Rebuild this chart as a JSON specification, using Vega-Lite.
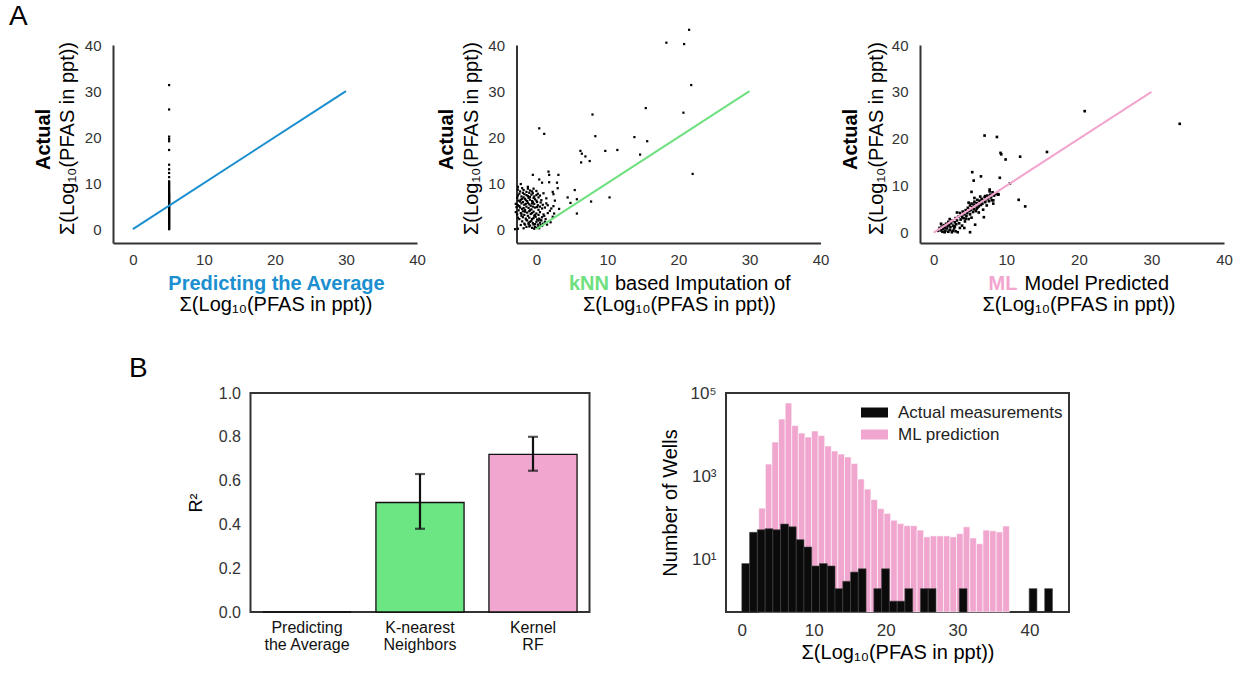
{
  "$schema": "https://vega.github.io/schema/vega-lite/v6.json",
  "background": "white",
  "padding": {"left": 9, "top": 2, "right": 5, "bottom": 5},
  "bounds": "flush",
  "spacing": 348,
  "resolve": {"scale": {"fill": "independent"}},
  "datasets": {
    "a1": [
      {"p":5.1,"a":0},{"p":5.1,"a":0.2},{"p":5.1,"a":0.4},{"p":5.1,"a":0.6},{"p":5.1,"a":0.8},{"p":5.1,"a":1.0},{"p":5.1,"a":1.2},{"p":5.1,"a":1.4},{"p":5.1,"a":1.6},{"p":5.1,"a":1.8},
      {"p":5.1,"a":2.0},{"p":5.1,"a":2.2},{"p":5.1,"a":2.4},{"p":5.1,"a":2.6},{"p":5.1,"a":2.8},{"p":5.1,"a":3.0},{"p":5.1,"a":3.2},{"p":5.1,"a":3.4},{"p":5.1,"a":3.6},{"p":5.1,"a":3.8},
      {"p":5.1,"a":4.0},{"p":5.1,"a":4.2},{"p":5.1,"a":4.4},{"p":5.1,"a":4.6},{"p":5.1,"a":4.8},{"p":5.1,"a":5.0},{"p":5.1,"a":5.2},{"p":5.1,"a":5.4},{"p":5.1,"a":5.6},{"p":5.1,"a":5.8},
      {"p":5.1,"a":6.0},{"p":5.1,"a":6.2},{"p":5.1,"a":6.4},{"p":5.1,"a":6.6},{"p":5.1,"a":6.8},{"p":5.1,"a":7.0},{"p":5.1,"a":7.2},{"p":5.1,"a":7.4},{"p":5.1,"a":7.6},{"p":5.1,"a":7.8},
      {"p":5.1,"a":8.0},{"p":5.1,"a":8.3},{"p":5.1,"a":8.6},{"p":5.1,"a":8.9},{"p":5.1,"a":9.2},{"p":5.1,"a":9.5},{"p":5.1,"a":9.8},{"p":5.1,"a":10.1},{"p":5.1,"a":10.4},
      {"p":5.1,"a":11.3},{"p":5.1,"a":12.2},{"p":5.1,"a":13.0},{"p":5.1,"a":14.0},{"p":5.1,"a":17.2},{"p":5.1,"a":19.1},{"p":5.1,"a":19.6},{"p":5.1,"a":20.1},{"p":5.1,"a":26.0},{"p":5.1,"a":31.3}
    ],
    "a2": [
      {"p":-2.6,"a":0.1},{"p":-1.8,"a":0.2},{"p":-0.6,"a":0.3},{"p":-0.2,"a":0.5},{"p":0.1,"a":0.3},{"p":0.3,"a":0.6},{"p":-0.9,"a":0.8},{"p":-1.4,"a":0.5},{"p":0.6,"a":0.9},{"p":-0.4,"a":1.0},{"p":0.2,"a":1.0},{"p":-2.2,"a":0.9},
      {"p":-1.7,"a":1.2},{"p":-1.1,"a":1.4},{"p":-0.5,"a":1.3},{"p":0.0,"a":1.6},{"p":0.5,"a":1.4},{"p":0.9,"a":1.2},{"p":-2.0,"a":1.7},{"p":-1.3,"a":1.9},{"p":-0.7,"a":1.8},{"p":0.3,"a":1.9},{"p":1.2,"a":1.6},{"p":-0.2,"a":1.1},{"p":0.7,"a":1.9},
      {"p":-2.4,"a":2.2},{"p":-1.9,"a":2.6},{"p":-1.5,"a":2.3},{"p":-1.0,"a":2.5},{"p":-0.6,"a":2.2},{"p":-0.1,"a":2.7},{"p":0.4,"a":2.3},{"p":0.8,"a":2.6},{"p":-1.2,"a":2.9},{"p":-2.1,"a":2.9},{"p":1.3,"a":2.2},{"p":0.1,"a":2.1},{"p":-0.3,"a":2.9},
      {"p":-2.7,"a":3.2},{"p":-2.2,"a":3.5},{"p":-1.7,"a":3.1},{"p":-1.3,"a":3.6},{"p":-0.8,"a":3.3},{"p":-0.4,"a":3.8},{"p":0.0,"a":3.4},{"p":0.5,"a":3.7},{"p":1.0,"a":3.2},{"p":-1.9,"a":3.9},{"p":-1.0,"a":3.9},{"p":-2.9,"a":3.7},{"p":0.3,"a":3.1},{"p":1.6,"a":3.5},
      {"p":-2.5,"a":4.1},{"p":-2.0,"a":4.4},{"p":-1.6,"a":4.2},{"p":-1.1,"a":4.6},{"p":-0.7,"a":4.3},{"p":-0.2,"a":4.7},{"p":0.3,"a":4.2},{"p":0.8,"a":4.5},{"p":-2.8,"a":4.8},{"p":-1.4,"a":4.9},{"p":-0.5,"a":4.9},{"p":1.2,"a":4.7},{"p":-2.3,"a":4.7},{"p":0.1,"a":4.8},{"p":2.1,"a":4.5},
      {"p":-2.6,"a":5.2},{"p":-2.1,"a":5.6},{"p":-1.7,"a":5.3},{"p":-1.2,"a":5.7},{"p":-0.8,"a":5.1},{"p":-0.3,"a":5.5},{"p":0.2,"a":5.2},{"p":0.6,"a":5.8},{"p":-1.9,"a":5.9},{"p":-1.0,"a":5.4},{"p":-2.9,"a":5.5},{"p":0.9,"a":5.3},{"p":-0.5,"a":5.9},{"p":1.4,"a":5.6},
      {"p":-2.5,"a":6.2},{"p":-2.0,"a":6.6},{"p":-1.5,"a":6.3},{"p":-1.1,"a":6.8},{"p":-0.6,"a":6.1},{"p":-0.2,"a":6.5},{"p":0.3,"a":6.9},{"p":-2.7,"a":6.8},{"p":-1.8,"a":6.9},{"p":-0.9,"a":6.4},{"p":0.7,"a":6.3},{"p":-1.3,"a":6.1},{"p":0.0,"a":6.2},{"p":-2.3,"a":6.0},
      {"p":-2.6,"a":7.3},{"p":-2.1,"a":7.1},{"p":-1.7,"a":7.6},{"p":-1.2,"a":7.2},{"p":-0.7,"a":7.5},{"p":-0.3,"a":7.1},{"p":0.2,"a":7.7},{"p":-1.9,"a":7.9},{"p":-1.0,"a":7.9},{"p":-2.4,"a":7.7},{"p":-0.5,"a":7.8},{"p":0.5,"a":7.3},
      {"p":-2.3,"a":8.2},{"p":-1.8,"a":8.5},{"p":-1.4,"a":8.1},{"p":-0.9,"a":8.4},{"p":-0.4,"a":8.8},{"p":0.0,"a":8.3},{"p":-2.0,"a":8.9},{"p":-1.2,"a":8.8},{"p":-2.6,"a":8.6},{"p":-0.6,"a":8.2},
      {"p":-1.6,"a":1.0},{"p":-1.0,"a":0.6},{"p":0.4,"a":0.2},{"p":-0.3,"a":0.1},{"p":-1.4,"a":2.0},{"p":-0.9,"a":1.6},{"p":-0.4,"a":2.4},{"p":0.6,"a":2.0},{"p":-1.6,"a":3.8},{"p":-0.6,"a":3.5},{"p":-0.2,"a":3.1},{"p":-1.8,"a":4.6},{"p":-0.9,"a":4.1},{"p":0.5,"a":4.9},
      {"p":-1.5,"a":5.5},{"p":-0.6,"a":5.6},{"p":0.1,"a":5.9},{"p":-1.6,"a":6.6},{"p":-0.4,"a":6.8},{"p":-1.4,"a":7.4},{"p":-0.9,"a":7.0},{"p":0.0,"a":7.4},{"p":-2.2,"a":6.4},{"p":-2.4,"a":5.0},{"p":-2.1,"a":3.3},{"p":-2.6,"a":2.5},{"p":-1.1,"a":1.1},{"p":0.8,"a":0.7},
      {"p":-0.5,"a":11.8},{"p":1.7,"a":12.5},{"p":1.8,"a":11.8},{"p":3.1,"a":11.8},{"p":0.4,"a":10.8},{"p":0.8,"a":10.1},{"p":1.8,"a":10.2},{"p":2.9,"a":10.1},{"p":-2.6,"a":9.2},{"p":-2.2,"a":9.8},{"p":-1.2,"a":9.2},{"p":2.3,"a":8.1},{"p":3.0,"a":8.9},{"p":2.4,"a":7.6},
      {"p":1.0,"a":7.8},{"p":1.4,"a":6.7},{"p":1.6,"a":5.2},{"p":2.4,"a":5.0},{"p":2.5,"a":3.4},{"p":2.3,"a":2.7},{"p":4.4,"a":6.9},{"p":5.4,"a":8.5},{"p":5.7,"a":6.5},{"p":7.7,"a":6.0},{"p":5.7,"a":3.4},{"p":10.3,"a":6.9},{"p":4.8,"a":5.7},{"p":1.9,"a":4.0},
      {"p":1.5,"a":1.0},{"p":2.0,"a":1.5},{"p":1.1,"a":2.9},{"p":3.2,"a":4.4},{"p":2.6,"a":6.2},{"p":-3.0,"a":0.0},
      {"p":21.5,"a":43.3},{"p":18.3,"a":40.5},{"p":20.8,"a":40.2},{"p":21.8,"a":31.3},{"p":15.4,"a":26.3},{"p":20.7,"a":25.3},{"p":7.9,"a":24.9},{"p":0.4,"a":21.9},{"p":1.1,"a":20.7},{"p":8.3,"a":20.2},{"p":13.8,"a":20.0},
      {"p":15.6,"a":19.1},{"p":6.2,"a":17.0},{"p":9.7,"a":17.0},{"p":11.4,"a":17.2},{"p":6.4,"a":16.4},{"p":6.9,"a":15.8},{"p":14.6,"a":16.2},{"p":7.5,"a":14.8},{"p":6.3,"a":14.5},{"p":22.0,"a":12.0}
    ],
    "a3": [
      {"p":0.6,"a":0.4},{"p":0.8,"a":1.0},{"p":1.0,"a":0.5},{"p":1.1,"a":1.3},{"p":1.2,"a":0.2},{"p":1.3,"a":0.8},{"p":1.4,"a":1.6},{"p":1.5,"a":1.1},{"p":1.6,"a":0.4},{"p":1.7,"a":1.9},
      {"p":1.8,"a":0.9},{"p":1.9,"a":1.4},{"p":2.0,"a":0.2},{"p":2.0,"a":2.3},{"p":2.1,"a":1.7},{"p":2.2,"a":0.6},{"p":2.3,"a":1.2},{"p":2.4,"a":2.0},{"p":2.5,"a":0.1},{"p":2.6,"a":2.6},
      {"p":2.7,"a":1.5},{"p":2.8,"a":0.9},{"p":2.9,"a":2.2},{"p":3.0,"a":0.3},{"p":3.0,"a":3.1},{"p":3.1,"a":1.8},{"p":3.2,"a":2.6},{"p":3.3,"a":0.1},{"p":3.4,"a":3.4},{"p":3.5,"a":2.0},
      {"p":3.6,"a":4.2},{"p":3.7,"a":2.8},{"p":3.8,"a":3.7},{"p":3.9,"a":1.5},{"p":4.0,"a":4.5},{"p":4.1,"a":3.1},{"p":4.2,"a":3.9},{"p":4.3,"a":2.4},{"p":4.4,"a":4.8},{"p":4.5,"a":3.6},
      {"p":4.6,"a":4.2},{"p":4.7,"a":5.3},{"p":4.8,"a":2.9},{"p":4.9,"a":4.6},{"p":5.0,"a":5.8},{"p":5.0,"a":3.9},{"p":5.1,"a":4.9},{"p":5.2,"a":6.2},{"p":5.2,"a":3.2},{"p":5.3,"a":5.4},
      {"p":5.4,"a":4.4},{"p":5.5,"a":6.0},{"p":5.5,"a":5.0},{"p":5.6,"a":6.6},{"p":5.7,"a":5.7},{"p":5.8,"a":4.6},{"p":5.9,"a":6.3},{"p":6.0,"a":5.3},{"p":6.0,"a":7.0},{"p":6.1,"a":6.1},
      {"p":6.2,"a":5.6},{"p":6.3,"a":6.8},{"p":6.4,"a":6.4},{"p":6.5,"a":5.9},{"p":6.6,"a":7.2},{"p":6.7,"a":6.2},{"p":6.8,"a":4.9},{"p":6.9,"a":6.9},{"p":7.0,"a":7.6},{"p":7.1,"a":6.5},
      {"p":7.2,"a":7.1},{"p":7.3,"a":5.8},{"p":7.4,"a":7.9},{"p":7.5,"a":7.3},{"p":7.6,"a":6.7},{"p":7.8,"a":8.1},{"p":7.9,"a":7.5},{"p":8.0,"a":6.9},{"p":8.1,"a":8.6},{"p":8.3,"a":7.9},
      {"p":8.5,"a":8.2},{"p":8.7,"a":8.3},{"p":8.9,"a":8.2},{"p":3.6,"a":1.0},{"p":2.2,"a":2.9},{"p":1.0,"a":1.9},{"p":4.2,"a":1.0},{"p":3.2,"a":4.3},{"p":4.8,"a":6.4},{"p":5.6,"a":7.4},
      {"p":6.4,"a":7.7},{"p":6.2,"a":4.3},{"p":1.5,"a":0.1},{"p":2.6,"a":0.4},{"p":3.9,"a":3.3},{"p":4.4,"a":3.0},{"p":5.9,"a":5.1},{"p":6.6,"a":6.6},{"p":7.1,"a":7.8},{"p":2.9,"a":1.3},
      {"p":20.8,"a":25.9},{"p":33.9,"a":23.2},{"p":7.0,"a":20.7},{"p":8.7,"a":20.4},{"p":15.6,"a":17.2},{"p":9.2,"a":17.0},{"p":9.3,"a":16.7},{"p":11.9,"a":16.2},{"p":9.9,"a":15.6},{"p":5.3,"a":12.9},
      {"p":6.5,"a":12.0},{"p":9.1,"a":11.7},{"p":5.5,"a":11.1},{"p":10.5,"a":10.5},{"p":5.2,"a":8.7},{"p":11.7,"a":7.0},{"p":12.6,"a":5.6},{"p":6.9,"a":3.3},{"p":5.0,"a":0.1},{"p":8.2,"a":6.2},
      {"p":8.2,"a":6.9},{"p":7.7,"a":8.8},{"p":8.9,"a":8.1},{"p":5.7,"a":1.7},{"p":7.7,"a":9.2}
    ],
    "diag": [{"p":0,"a":0},{"p":30,"a":30}],
    "r2": [
      {"model":"Predicting the Average","r2":0,"lo":null,"hi":null},
      {"model":"K-nearest Neighbors","r2":0.50,"lo":0.38,"hi":0.63},
      {"model":"Kernel RF","r2":0.72,"lo":0.645,"hi":0.80}
    ],
    "pred": [
      {"x0":2.36,"x1":3.28,"n":172},{"x0":3.28,"x1":4.19,"n":1960},{"x0":4.19,"x1":5.11,"n":6640},{"x0":5.11,"x1":6.03,"n":23700},{"x0":6.03,"x1":6.94,"n":57500},
      {"x0":6.94,"x1":7.86,"n":16500},{"x0":7.86,"x1":8.78,"n":10900},{"x0":8.78,"x1":9.70,"n":8750},{"x0":9.70,"x1":10.61,"n":12200},{"x0":10.61,"x1":11.53,"n":9500},
      {"x0":11.53,"x1":12.45,"n":5320},{"x0":12.45,"x1":13.36,"n":4030},{"x0":13.36,"x1":14.28,"n":3420},{"x0":14.28,"x1":15.20,"n":2900},{"x0":15.20,"x1":16.12,"n":2020},
      {"x0":16.12,"x1":17.03,"n":857},{"x0":17.03,"x1":17.95,"n":492},{"x0":17.95,"x1":18.87,"n":275},{"x0":18.87,"x1":19.78,"n":167},{"x0":19.78,"x1":20.70,"n":128},
      {"x0":20.70,"x1":21.62,"n":88},{"x0":21.62,"x1":22.53,"n":73},{"x0":22.53,"x1":23.45,"n":65},{"x0":23.45,"x1":24.37,"n":65},{"x0":24.37,"x1":25.29,"n":51},
      {"x0":25.29,"x1":26.20,"n":35},{"x0":26.20,"x1":27.12,"n":37},{"x0":27.12,"x1":28.04,"n":37},{"x0":28.04,"x1":28.95,"n":37},{"x0":28.95,"x1":29.87,"n":35},
      {"x0":29.87,"x1":30.79,"n":42},{"x0":30.79,"x1":31.71,"n":61},{"x0":31.71,"x1":32.62,"n":33},{"x0":32.62,"x1":33.54,"n":24},{"x0":33.54,"x1":34.46,"n":51},
      {"x0":34.46,"x1":35.37,"n":49},{"x0":35.37,"x1":36.29,"n":46},{"x0":36.29,"x1":37.21,"n":64}
    ],
    "actual": [
      {"x0":0.00,"x1":1.08,"n":8},{"x0":1.08,"x1":2.16,"n":45},{"x0":2.16,"x1":3.24,"n":52},{"x0":3.24,"x1":4.32,"n":55},{"x0":4.32,"x1":5.40,"n":52},
      {"x0":5.40,"x1":6.48,"n":71},{"x0":6.48,"x1":7.56,"n":61},{"x0":7.56,"x1":8.64,"n":30},{"x0":8.64,"x1":9.72,"n":20},{"x0":9.72,"x1":10.80,"n":7},
      {"x0":10.80,"x1":11.88,"n":8},{"x0":11.88,"x1":12.96,"n":7},{"x0":12.96,"x1":14.04,"n":2},{"x0":14.04,"x1":15.12,"n":3},{"x0":15.12,"x1":16.20,"n":5},
      {"x0":16.20,"x1":17.28,"n":6},{"x0":18.36,"x1":19.44,"n":2},{"x0":19.44,"x1":20.52,"n":6},{"x0":20.52,"x1":21.60,"n":1},{"x0":21.60,"x1":22.68,"n":1},
      {"x0":22.68,"x1":23.76,"n":2},{"x0":24.84,"x1":25.92,"n":2},{"x0":25.92,"x1":27.00,"n":2},{"x0":30.24,"x1":31.32,"n":2},{"x0":39.96,"x1":41.04,"n":2},
      {"x0":42.12,"x1":43.20,"n":2}
    ]
  },
  "vconcat": [
    {
      "bounds": "flush",
      "spacing": 99.5,
      "title": {"text": "A", "anchor": "start", "frame": "bounds", "orient": "top", "dx": -24, "offset": -2, "fontSize": 28, "fontWeight": "normal", "color": "#000"},
      "hconcat": [
        {
          "width": 304, "height": 198,
          "title": {"text": "Σ(Log₁₀(PFAS in ppt))", "orient": "bottom", "frame": "group", "anchor": "middle", "dx": 11, "offset": 2, "fontSize": 20, "fontWeight": "normal", "color": "#000"},
          "layer": [
            {
              "data": {"name": "a1"},
              "mark": {"type": "square", "filled": true, "color": "#000", "size": 5, "opacity": 1},
              "encoding": {
                "x": {"field": "p", "type": "quantitative", "scale": {"domain": [-2.8, 40], "nice": false, "zero": false},
                  "axis": {"values": [0,10,20,30,40], "ticks": false, "domainColor": "#333", "domainWidth": 2, "labelFontSize": 15, "labelColor": "#333", "labelPadding": 9, "labelFlush": false,
                    "title": "Predicting the Average", "titleFontSize": 20, "titleFontWeight": "bold", "titleColor": "#1b8fcf", "titleAlign": "center", "titleBaseline": "middle", "titleX": 163, "titleY": 40}},
                "y": {"field": "a", "type": "quantitative", "scale": {"domain": [-3, 40], "nice": false, "zero": false},
                  "axis": {"values": [0,10,20,30,40], "ticks": false, "domainColor": "#333", "domainWidth": 2, "labelFontSize": 15, "labelColor": "#333", "labelPadding": 12,
                    "title": "Σ(Log₁₀(PFAS in ppt))", "titleFontSize": 20, "titleFontWeight": "normal", "titleColor": "#000", "titleAlign": "center", "titleBaseline": "middle", "titleAngle": -90, "titleX": -46, "titleY": 93}}
              }
            },
            {
              "data": {"name": "diag"},
              "mark": {"type": "line", "color": "#1b8fcf", "strokeWidth": 2},
              "encoding": {
                "x": {"field": "p", "type": "quantitative", "axis": null},
                "y": {"field": "a", "type": "quantitative",
                  "axis": {"orient": "left", "labels": false, "ticks": false, "domain": false, "title": "Actual", "titleFontSize": 20, "titleFontWeight": "bold", "titleColor": "#000", "titleAlign": "center", "titleBaseline": "middle", "titleAngle": -90, "titleX": -70, "titleY": 94}}
              }
            }
          ],
          "resolve": {"axis": {"x": "independent", "y": "independent"}}
        },
        {
          "width": 304, "height": 198,
          "title": {"text": "Σ(Log₁₀(PFAS in ppt))", "orient": "bottom", "frame": "group", "anchor": "middle", "dx": 11, "offset": 2, "fontSize": 20, "fontWeight": "normal", "color": "#000"},
          "layer": [
            {
              "data": {"name": "a2"},
              "mark": {"type": "square", "filled": true, "color": "#000", "size": 5, "opacity": 1},
              "encoding": {
                "x": {"field": "p", "type": "quantitative", "scale": {"domain": [-2.8, 40], "nice": false, "zero": false},
                  "axis": {"values": [0,10,20,30,40], "ticks": false, "domainColor": "#333", "domainWidth": 2, "labelFontSize": 15, "labelColor": "#333", "labelPadding": 9, "labelFlush": false,
                    "title": "based Imputation of", "titleFontSize": 20, "titleFontWeight": "normal", "titleColor": "#000", "titleAlign": "left", "titleBaseline": "middle", "titleX": 98, "titleY": 40}},
                "y": {"field": "a", "type": "quantitative", "scale": {"domain": [-3, 40], "nice": false, "zero": false},
                  "axis": {"values": [0,10,20,30,40], "ticks": false, "domainColor": "#333", "domainWidth": 2, "labelFontSize": 15, "labelColor": "#333", "labelPadding": 12,
                    "title": "Σ(Log₁₀(PFAS in ppt))", "titleFontSize": 20, "titleFontWeight": "normal", "titleColor": "#000", "titleAlign": "center", "titleBaseline": "middle", "titleAngle": -90, "titleX": -45, "titleY": 93}}
              }
            },
            {
              "data": {"name": "diag"},
              "mark": {"type": "line", "color": "#6ee07f", "strokeWidth": 2},
              "encoding": {
                "x": {"field": "p", "type": "quantitative",
                  "axis": {"orient": "bottom", "labels": false, "ticks": false, "domain": false, "title": "kNN", "titleFontSize": 20, "titleFontWeight": "bold", "titleColor": "#6ee07f", "titleAlign": "right", "titleBaseline": "middle", "titleX": 92, "titleY": 40}},
                "y": {"field": "a", "type": "quantitative",
                  "axis": {"orient": "left", "labels": false, "ticks": false, "domain": false, "title": "Actual", "titleFontSize": 20, "titleFontWeight": "bold", "titleColor": "#000", "titleAlign": "center", "titleBaseline": "middle", "titleAngle": -90, "titleX": -70, "titleY": 94}}
              }
            }
          ],
          "resolve": {"axis": {"x": "independent", "y": "independent"}}
        },
        {
          "width": 304, "height": 198,
          "title": {"text": "Σ(Log₁₀(PFAS in ppt))", "orient": "bottom", "frame": "group", "anchor": "middle", "dx": 7, "offset": 2, "fontSize": 20, "fontWeight": "normal", "color": "#000"},
          "layer": [
            {
              "data": {"name": "a3"},
              "mark": {"type": "square", "filled": true, "color": "#000", "size": 7, "opacity": 1},
              "encoding": {
                "x": {"field": "p", "type": "quantitative", "scale": {"domain": [-1.9, 40], "nice": false, "zero": false},
                  "axis": {"values": [0,10,20,30,40], "ticks": false, "domainColor": "#333", "domainWidth": 2, "labelFontSize": 15, "labelColor": "#333", "labelPadding": 9, "labelFlush": false,
                    "title": "Model Predicted", "titleFontSize": 20, "titleFontWeight": "normal", "titleColor": "#000", "titleAlign": "left", "titleBaseline": "middle", "titleX": 104, "titleY": 40}},
                "y": {"field": "a", "type": "quantitative", "scale": {"domain": [-2.2, 40], "nice": false, "zero": false},
                  "axis": {"values": [0,10,20,30,40], "ticks": false, "domainColor": "#333", "domainWidth": 2, "labelFontSize": 15, "labelColor": "#333", "labelPadding": 12,
                    "title": "Σ(Log₁₀(PFAS in ppt))", "titleFontSize": 20, "titleFontWeight": "normal", "titleColor": "#000", "titleAlign": "center", "titleBaseline": "middle", "titleAngle": -90, "titleX": -44, "titleY": 93}}
              }
            },
            {
              "data": {"name": "diag"},
              "mark": {"type": "line", "color": "#f2a5cf", "strokeWidth": 2},
              "encoding": {
                "x": {"field": "p", "type": "quantitative",
                  "axis": {"orient": "bottom", "labels": false, "ticks": false, "domain": false, "title": "ML", "titleFontSize": 20, "titleFontWeight": "bold", "titleColor": "#f2a5cf", "titleAlign": "right", "titleBaseline": "middle", "titleX": 97, "titleY": 40}},
                "y": {"field": "a", "type": "quantitative",
                  "axis": {"orient": "left", "labels": false, "ticks": false, "domain": false, "title": "Actual", "titleFontSize": 20, "titleFontWeight": "bold", "titleColor": "#000", "titleAlign": "center", "titleBaseline": "middle", "titleAngle": -90, "titleX": -70, "titleY": 94}}
              }
            }
          ],
          "resolve": {"axis": {"x": "independent", "y": "independent"}}
        }
      ]
    },
    {
      "bounds": "flush",
      "spacing": 136.5,
      "resolve": {"scale": {"fill": "independent"}},
      "title": {"text": "B", "anchor": "start", "frame": "bounds", "orient": "top", "dx": 16, "offset": 0, "fontSize": 28, "fontWeight": "normal", "color": "#000"},
      "hconcat": [
        {"width": 1, "height": 1, "data": {"values": []}, "mark": "point", "encoding": {}},
        {
          "width": 339, "height": 219,
          "view": {"stroke": "#333", "strokeWidth": 2},
          "data": {"name": "r2"},
          "encoding": {
            "x": {"field": "model", "type": "nominal", "sort": null, "scale": {"paddingInner": 0.22, "paddingOuter": 0.11},
              "axis": {"title": null, "labelAngle": 0, "ticks": false, "domain": false, "labelFontSize": 16, "labelColor": "#111", "labelPadding": 7, "labelLineHeight": 17,
                "labelExpr": "datum.label == 'Predicting the Average' ? ['Predicting', 'the Average'] : datum.label == 'K-nearest Neighbors' ? ['K-nearest', 'Neighbors'] : ['Kernel', 'RF']"}}
          },
          "layer": [
            {
              "mark": {"type": "bar", "stroke": "#111", "strokeWidth": 1.3},
              "encoding": {
                "y": {"field": "r2", "type": "quantitative", "scale": {"domain": [0, 1], "nice": false},
                  "axis": {"values": [0,0.2,0.4,0.6,0.8,1.0], "format": ".1f", "ticks": false, "domain": false, "labelFontSize": 16, "labelColor": "#333", "labelPadding": 10, "labelFlush": false,
                    "title": "R²", "titleFontSize": 18, "titleFontWeight": "normal", "titleColor": "#000", "titlePadding": 13}},
                "fill": {"field": "model", "type": "nominal", "scale": {"domain": ["Predicting the Average", "K-nearest Neighbors", "Kernel RF"], "range": ["#ffffff", "#6ce583", "#f0a6ce"]}, "legend": null}
              }
            },
            {
              "mark": {"type": "rule", "strokeWidth": 2.2, "color": "#111"},
              "encoding": {"y": {"field": "lo", "type": "quantitative"}, "y2": {"field": "hi"}}
            },
            {
              "mark": {"type": "tick", "thickness": 2.2, "size": 10, "color": "#111"},
              "encoding": {"y": {"field": "lo", "type": "quantitative"}}
            },
            {
              "mark": {"type": "tick", "thickness": 2.2, "size": 10, "color": "#111"},
              "encoding": {"y": {"field": "hi", "type": "quantitative"}}
            }
          ]
        },
        {
          "width": 343, "height": 219,
          "view": {"stroke": "#333", "strokeWidth": 2},
          "layer": [
            {
              "data": {"name": "pred"},
              "mark": {"type": "bar", "stroke": "#ffffff", "strokeWidth": 0.7, "strokeOpacity": 0.8},
              "encoding": {
                "x": {"field": "x0", "type": "quantitative", "scale": {"domain": [-2.2, 45.5], "nice": false, "zero": false},
                  "axis": {"values": [0,10,20,30,40], "ticks": false, "domain": false, "labelFontSize": 17, "labelColor": "#333", "labelPadding": 10, "labelFlush": false,
                    "title": "Σ(Log₁₀(PFAS in ppt))", "titleFontSize": 20, "titleFontWeight": "normal", "titleColor": "#000", "titlePadding": 4}},
                "x2": {"field": "x1"},
                "y": {"field": "n", "type": "quantitative", "scale": {"type": "log", "domain": [0.55, 100000], "nice": false},
                  "axis": {"values": [10, 1000, 100000], "labelExpr": "datum.value == 10 ? '10¹' : datum.value == 1000 ? '10³' : '10⁵'", "ticks": false, "domain": false, "labelFontSize": 17, "labelColor": "#333", "labelPadding": 10, "labelFlush": false,
                    "title": "Number of Wells", "titleFontSize": 20, "titleFontWeight": "normal", "titleColor": "#000", "titlePadding": 10}},
                "y2": {"datum": 0.55},
                "fill": {"datum": "ML prediction", "type": "nominal",
                  "scale": {"domain": ["Actual measurements", "ML prediction"], "range": ["#0b0b0b", "#f0a6ce"]},
                  "legend": {"title": null, "orient": "top-right", "offset": 6, "symbolType": "M-1,-0.37H1V0.37H-1Z", "symbolSize": 729, "symbolStrokeWidth": 0, "labelFontSize": 17, "labelColor": "#222", "labelLimit": 400, "rowPadding": -5, "labelOffset": 10}}
              }
            },
            {
              "data": {"name": "actual"},
              "mark": {"type": "bar", "stroke": "#444", "strokeWidth": 0.6},
              "encoding": {
                "x": {"field": "x0", "type": "quantitative"},
                "x2": {"field": "x1"},
                "y": {"field": "n", "type": "quantitative"},
                "y2": {"datum": 0.55},
                "fill": {"datum": "Actual measurements", "type": "nominal"}
              }
            }
          ]
        }
      ]
    }
  ],
  "config": {
    "font": "Liberation Sans",
    "view": {"stroke": null},
    "axis": {"grid": false},
    "title": {"font": "Liberation Sans"}
  }
}
